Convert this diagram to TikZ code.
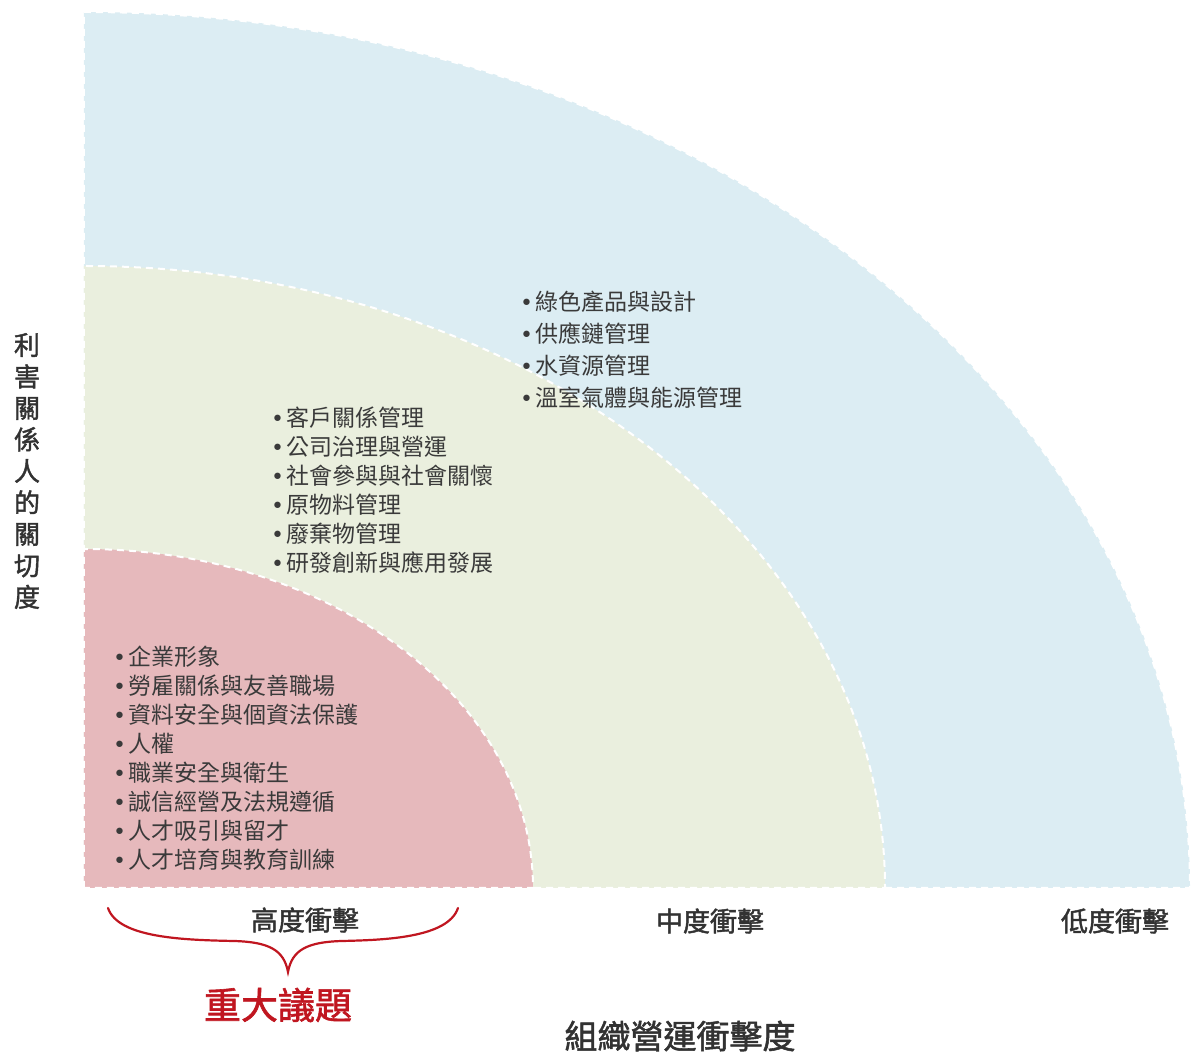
\documentclass[tikz,border=0pt]{standalone}
\usepackage{fontspec}
\setmainfont{Noto Sans CJK TC}
\newfontfamily\cjkbold[FakeBold=1.6]{Noto Sans CJK TC}
\newfontfamily\bulfont{DejaVu Sans}
\usetikzlibrary{positioning}

\definecolor{zoneblue}{RGB}{220,237,243}
\definecolor{zonegreen}{RGB}{234,239,222}
\definecolor{zonered}{RGB}{230,185,188}
\definecolor{txtgray}{RGB}{58,58,58}
\definecolor{labgray}{RGB}{50,50,50}
\definecolor{keyred}{RGB}{192,22,32}

\newcommand{\bul}{{\bulfont\fontsize{22}{22}\selectfont•}\hspace{2pt}}

\begin{document}
\begin{tikzpicture}[
    x=1pt, y=1pt,
    zone/.style={draw=white, line width=2pt, dash pattern=on 7pt off 5pt},
    itemtxt/.style={anchor=west, inner sep=0pt, text=txtgray, font=\fontsize{23}{29}\selectfont},
    impact/.style={inner sep=0pt, text=labgray, font=\cjkbold\fontsize{27}{30}\selectfont},
    axislabel/.style={inner sep=0pt, text=labgray, align=center}
]
\useasboundingbox (-84,-164) rectangle (1107,888);

% 三個區塊
\fill[zoneblue] (0,0) -- (0,876) arc[start angle=90, end angle=0, x radius=1106, y radius=876] -- cycle;
\draw[zone] (0,0) -- (0,876) arc[start angle=90, end angle=0, x radius=1106, y radius=876] -- cycle;
\fill[zonegreen] (0,0) -- (0,622) arc[start angle=90, end angle=0, x radius=801, y radius=622] -- cycle;
\draw[zone] (0,0) -- (0,622) arc[start angle=90, end angle=0, x radius=801, y radius=622] -- cycle;
\fill[zonered] (0,0) -- (0,339) arc[start angle=90, end angle=0, x radius=449, y radius=339] -- cycle;
\draw[zone] (0,0) -- (0,339) arc[start angle=90, end angle=0, x radius=449, y radius=339] -- cycle;

% 低度衝擊議題
\foreach \t [count=\i] in {綠色產品與設計, 供應鏈管理, 水資源管理, 溫室氣體與能源管理}
  \node[itemtxt] (low\i) at (436, 586-32*\i+32) {\bul\t};

% 中度衝擊議題
\foreach \t [count=\i] in {客戶關係管理, 公司治理與營運, 社會參與與社會關懷, 原物料管理, 廢棄物管理, 研發創新與應用發展}
  \node[itemtxt] (mid\i) at (187, 470-29*\i+29) {\bul\t};

% 高度衝擊議題
\foreach \t [count=\i] in {企業形象, 勞雇關係與友善職場, 資料安全與個資法保護, 人權, 職業安全與衛生, 誠信經營及法規遵循, 人才吸引與留才, 人才培育與教育訓練}
  \node[itemtxt] (high\i) at (29, 231-29*\i+29) {\bul\t};

% 橫軸標籤
\node[impact] (hi) at (221,-32) {高度衝擊};
\node[impact] (md) at (626,-33) {中度衝擊};
\node[impact] (lo) at (1031,-33) {低度衝擊};

% 大括號
\draw[keyred, line width=2.2pt, line cap=round]
  (24,-20) .. controls (34,-50) and (100,-52) .. (150,-53)
  .. controls (185,-54) and (200,-62) .. (204,-84)
  .. controls (208,-62) and (223,-54) .. (258,-53)
  .. controls (300,-52) and (364,-50) .. (374,-20);

\node[inner sep=0pt, text=keyred, font=\cjkbold\fontsize{37}{40}\selectfont] (key) at (194,-117) {重大議題};
\node[axislabel, font=\cjkbold\fontsize{33}{36}\selectfont] (xlab) at (596,-148) {組織營運衝擊度};
\node[axislabel, font=\cjkbold\fontsize{26}{31.5}\selectfont] (ylab) at (-57,417)
  {利\\害\\關\\係\\人\\的\\關\\切\\度};
\end{tikzpicture}
\end{document}
